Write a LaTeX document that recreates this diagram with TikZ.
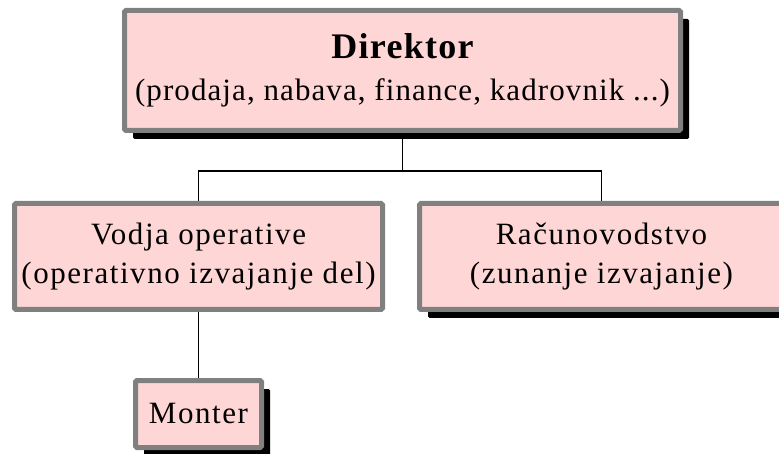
\documentclass[tikz,border=0pt]{standalone}
\usepackage{fontspec}
\newfontfamily\chartfont{Liberation Serif}[LetterSpace=5]
\newfontfamily\headfont{Liberation Serif}[LetterSpace=3.5]
\usetikzlibrary{shadows,backgrounds}
\definecolor{boxpink}{RGB}{255,214,214}
\definecolor{boxgray}{RGB}{128,128,128}

\tikzset{
  unitbox/.style={draw=boxgray, line width=5pt, fill=boxpink, rounded corners=1.5pt,
    inner sep=0pt, align=center, font=\chartfont\fontsize{31}{39}\selectfont},
  shadowed/.style={drop shadow={shadow xshift=8.5pt, shadow yshift=-8.5pt, fill=black, opacity=1}},
  link/.style={line width=1.5pt}
}

\begin{document}
\begin{tikzpicture}[x=1pt,y=1pt,yscale=-1,xscale=1]
\useasboundingbox (0,0) rectangle (779,454);

% Boxes
\node[unitbox, shadowed, minimum width=556pt, minimum height=120pt,
  font=\headfont\fontsize{31}{39}\selectfont] (dir) at (402.5,70.5)
  {{\fontsize{36}{39}\selectfont\bfseries Direktor}\\[3pt](prodaja, nabava, finance, kadrovnik ...)};
\node[unitbox, minimum width=368pt, minimum height=106pt] (vod) at (198.5,256.5)
  {Vodja operative\\(operativno izvajanje del)};
\node[unitbox, shadowed, minimum width=364pt, minimum height=106pt] (rac) at (601.5,256.5)
  {Računovodstvo\\(zunanje izvajanje)};
\node[unitbox, shadowed, minimum width=126pt, minimum height=67pt] (mon) at (198.5,414)
  {Monter};

% Connectors
\coordinate (fork) at (402.5,171);
\begin{scope}[on background layer]
\draw[link] (dir.south) -- (fork);
\draw[link] (vod.north) |- (fork) -| (rac.north);
\draw[link] (vod.south) -- (mon.north);
\end{scope}

\end{tikzpicture}
\end{document}
